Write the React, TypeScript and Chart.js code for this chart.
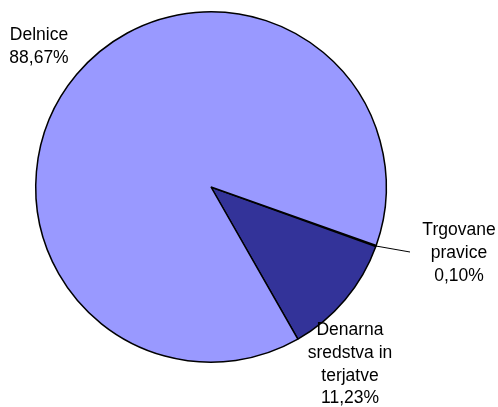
import React, { useEffect, useRef } from "react";
import { Chart, registerables } from "chart.js";

Chart.register(...registerables);

const categories = ["Trgovane pravice", "Denarna sredstva in terjatve", "Delnice"];
const values = [0.1, 11.23, 88.67];
const labelLines = [
  ["Trgovane", "pravice", "0,10%"],
  ["Denarna", "sredstva in", "terjatve", "11,23%"],
  ["Delnice", "88,67%"],
];
const colors = ["#9999FF", "#333399", "#9999FF"];

// label centre offsets from pie centre (px) and line height
const labelOffsets = [
  { dx: 248, dy: 66 },
  { dx: 139, dy: 177.5 },
  { dx: -172, dy: -140 },
];
const LINE_H = 22.7;

const labelPlugin = {
  id: "excelLabels",
  afterDraw(chart: any) {
    const meta = chart.getDatasetMeta(0);
    const ctx = chart.ctx;
    ctx.save();
    ctx.font = "17.5px 'Liberation Sans', Arial, sans-serif";
    ctx.fillStyle = "#000";
    ctx.textAlign = "center";
    ctx.textBaseline = "middle";
    meta.data.forEach((arc: any, i: number) => {
      const { x, y, outerRadius, startAngle, endAngle } = arc.getProps(
        ["x", "y", "outerRadius", "startAngle", "endAngle"],
        true
      );
      const off = labelOffsets[i];
      const lines = labelLines[i];
      const cx = x + off.dx;
      const cy = y + off.dy;
      const top = cy - ((lines.length - 1) * LINE_H) / 2;
      lines.forEach((t, k) => ctx.fillText(t, cx, top + k * LINE_H));
      if (i === 0) {
        const mid = (startAngle + endAngle) / 2;
        ctx.beginPath();
        ctx.strokeStyle = "#000";
        ctx.lineWidth = 1;
        ctx.moveTo(x + Math.cos(mid) * outerRadius, y + Math.sin(mid) * outerRadius);
        ctx.lineTo(x + 199, y + 65);
        ctx.stroke();
      }
    });
    ctx.restore();
  },
};

export default function App() {
  const ref = useRef<HTMLCanvasElement>(null);
  useEffect(() => {
    document.body.style.margin = "0";
    const chart = new Chart(ref.current!, {
      type: "pie",
      data: {
        labels: categories,
        datasets: [
          {
            data: values,
            backgroundColor: colors,
            borderColor: "#000",
            borderWidth: 1.5,
          },
        ],
      },
      options: {
        responsive: false,
        animation: false,
        rotation: 109.5,
        layout: { padding: { left: 35, right: 111, top: 11, bottom: 44 } },
        plugins: {
          legend: { display: false },
          tooltip: { enabled: false },
        },
      },
      plugins: [labelPlugin],
    });
    return () => chart.destroy();
  }, []);
  return (
    <div style={{ position: "absolute", left: 0, top: 0, width: 498, height: 407, background: "#fff" }}>
      <canvas ref={ref} width={498} height={407} />
    </div>
  );
}
